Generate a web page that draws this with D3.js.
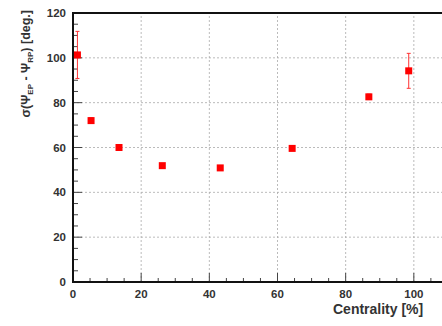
<!DOCTYPE html>
<html>
<head>
<meta charset="utf-8">
<script src="https://cdn.jsdelivr.net/npm/d3@7"></script>
<style>
  body { margin: 0; background: #fff; overflow: hidden; }
  svg { display: block; }
  .lbl { font-family: Arial, "Liberation Sans", sans-serif; font-weight: bold; fill: #333; }
</style>
</head>
<body>
<div id="chart"></div>
<script>
// centrality values (%) and sigma(Psi_EP - Psi_RP) in degrees
const centrality = [1.3, 5.3, 13.5, 26.2, 43.2, 64.3, 86.8, 98.5]
const sigma = [101.3, 72.0, 60.0, 51.9, 50.9, 59.6, 82.6, 94.2]
const sigmaErr = [10.5, 1.2, 0.6, 0.6, 0.6, 0.7, 1.2, 7.8]
const xTicks = [0, 20, 40, 60, 80, 100]
const yTicks = [0, 20, 40, 60, 80, 100, 120]

const W = 442
const H = 326
const margin = { top: 13, left: 73 }
const plotH = 269
const plotW = 409 // frame runs past the right edge, as in the original crop

const svg = d3.select('#chart').append('svg')
  .attr('width', W)
  .attr('height', H)

const x = d3.scaleLinear().domain([0, 120]).range([margin.left, margin.left + plotW])
const y = d3.scaleLinear().domain([0, 120]).range([margin.top + plotH, margin.top])

// grid
svg.append('g').selectAll('line')
  .data(xTicks.filter(d => d > 0))
  .enter().append('line')
  .attr('x1', d => x(d)).attr('x2', d => x(d))
  .attr('y1', y(0)).attr('y2', y(120))
  .attr('stroke', '#aaa').attr('stroke-width', 0.8).attr('stroke-dasharray', '2,2')

svg.append('g').selectAll('line')
  .data(yTicks.filter(d => d > 0 && d < 120))
  .enter().append('line')
  .attr('x1', x(0)).attr('x2', x(120))
  .attr('y1', d => y(d)).attr('y2', d => y(d))
  .attr('stroke', '#aaa').attr('stroke-width', 0.8).attr('stroke-dasharray', '2,2')

// inward ticks, minor every 5
svg.append('g').selectAll('line')
  .data(d3.range(0, 121, 5))
  .enter().append('line')
  .attr('x1', x(0)).attr('x2', d => x(0) + (d % 20 === 0 ? 9 : 5))
  .attr('y1', d => y(d)).attr('y2', d => y(d))
  .attr('stroke', '#444').attr('stroke-width', 1)

svg.append('g').selectAll('line')
  .data(d3.range(0, 111, 5))
  .enter().append('line')
  .attr('x1', d => x(d)).attr('x2', d => x(d))
  .attr('y1', y(0)).attr('y2', d => y(0) - (d % 20 === 0 ? 9 : 4))
  .attr('stroke', '#444').attr('stroke-width', 1)

// frame
svg.append('rect')
  .attr('x', x(0)).attr('y', y(120))
  .attr('width', plotW).attr('height', plotH)
  .attr('fill', 'none').attr('stroke', '#111').attr('stroke-width', 2)

// tick labels
svg.append('g').selectAll('text')
  .data(yTicks)
  .enter().append('text')
  .attr('class', 'lbl')
  .attr('x', x(0) - 7)
  .attr('y', d => y(d) + 4)
  .attr('text-anchor', 'end')
  .attr('font-size', 11.5)
  .text(d => d)

svg.append('g').selectAll('text')
  .data(xTicks)
  .enter().append('text')
  .attr('class', 'lbl')
  .attr('x', d => x(d))
  .attr('y', y(0) + 16)
  .attr('text-anchor', 'middle')
  .attr('font-size', 11.5)
  .text(d => d)

// axis titles
svg.append('text')
  .attr('class', 'lbl')
  .attr('x', 333).attr('y', 314)
  .attr('font-size', 14)
  .text('Centrality [%]')

const yt = svg.append('text')
  .attr('class', 'lbl')
  .attr('fill', '#444')
  .attr('transform', 'translate(30,10) rotate(-90)')
  .attr('text-anchor', 'end')
  .attr('font-size', 12.5)
yt.append('tspan').text('σ(Ψ')
yt.append('tspan').attr('font-size', 8).attr('dy', 3).text('EP')
yt.append('tspan').attr('dy', -3).text(' - Ψ')
yt.append('tspan').attr('font-size', 8).attr('dy', 3).text('RP')
yt.append('tspan').attr('dy', -3).text(') [deg.]')

// error bars
const pts = centrality.map((c, i) => ({ c: c, s: sigma[i], e: sigmaErr[i] }))
const eb = svg.append('g').selectAll('g')
  .data(pts)
  .enter().append('g')
  .attr('stroke', '#f33').attr('stroke-width', 1)
eb.append('line')
  .attr('x1', d => x(d.c)).attr('x2', d => x(d.c))
  .attr('y1', d => y(d.s - d.e)).attr('y2', d => y(d.s + d.e))
eb.append('line')
  .attr('x1', d => x(d.c) - 2).attr('x2', d => x(d.c) + 2)
  .attr('y1', d => y(d.s - d.e)).attr('y2', d => y(d.s - d.e))
eb.append('line')
  .attr('x1', d => x(d.c) - 2).attr('x2', d => x(d.c) + 2)
  .attr('y1', d => y(d.s + d.e)).attr('y2', d => y(d.s + d.e))

// markers
svg.append('g').selectAll('rect')
  .data(pts)
  .enter().append('rect')
  .attr('x', d => x(d.c) - 3.5)
  .attr('y', d => y(d.s) - 3.5)
  .attr('width', 7).attr('height', 7)
  .attr('fill', '#f00')
</script>
</body>
</html>
